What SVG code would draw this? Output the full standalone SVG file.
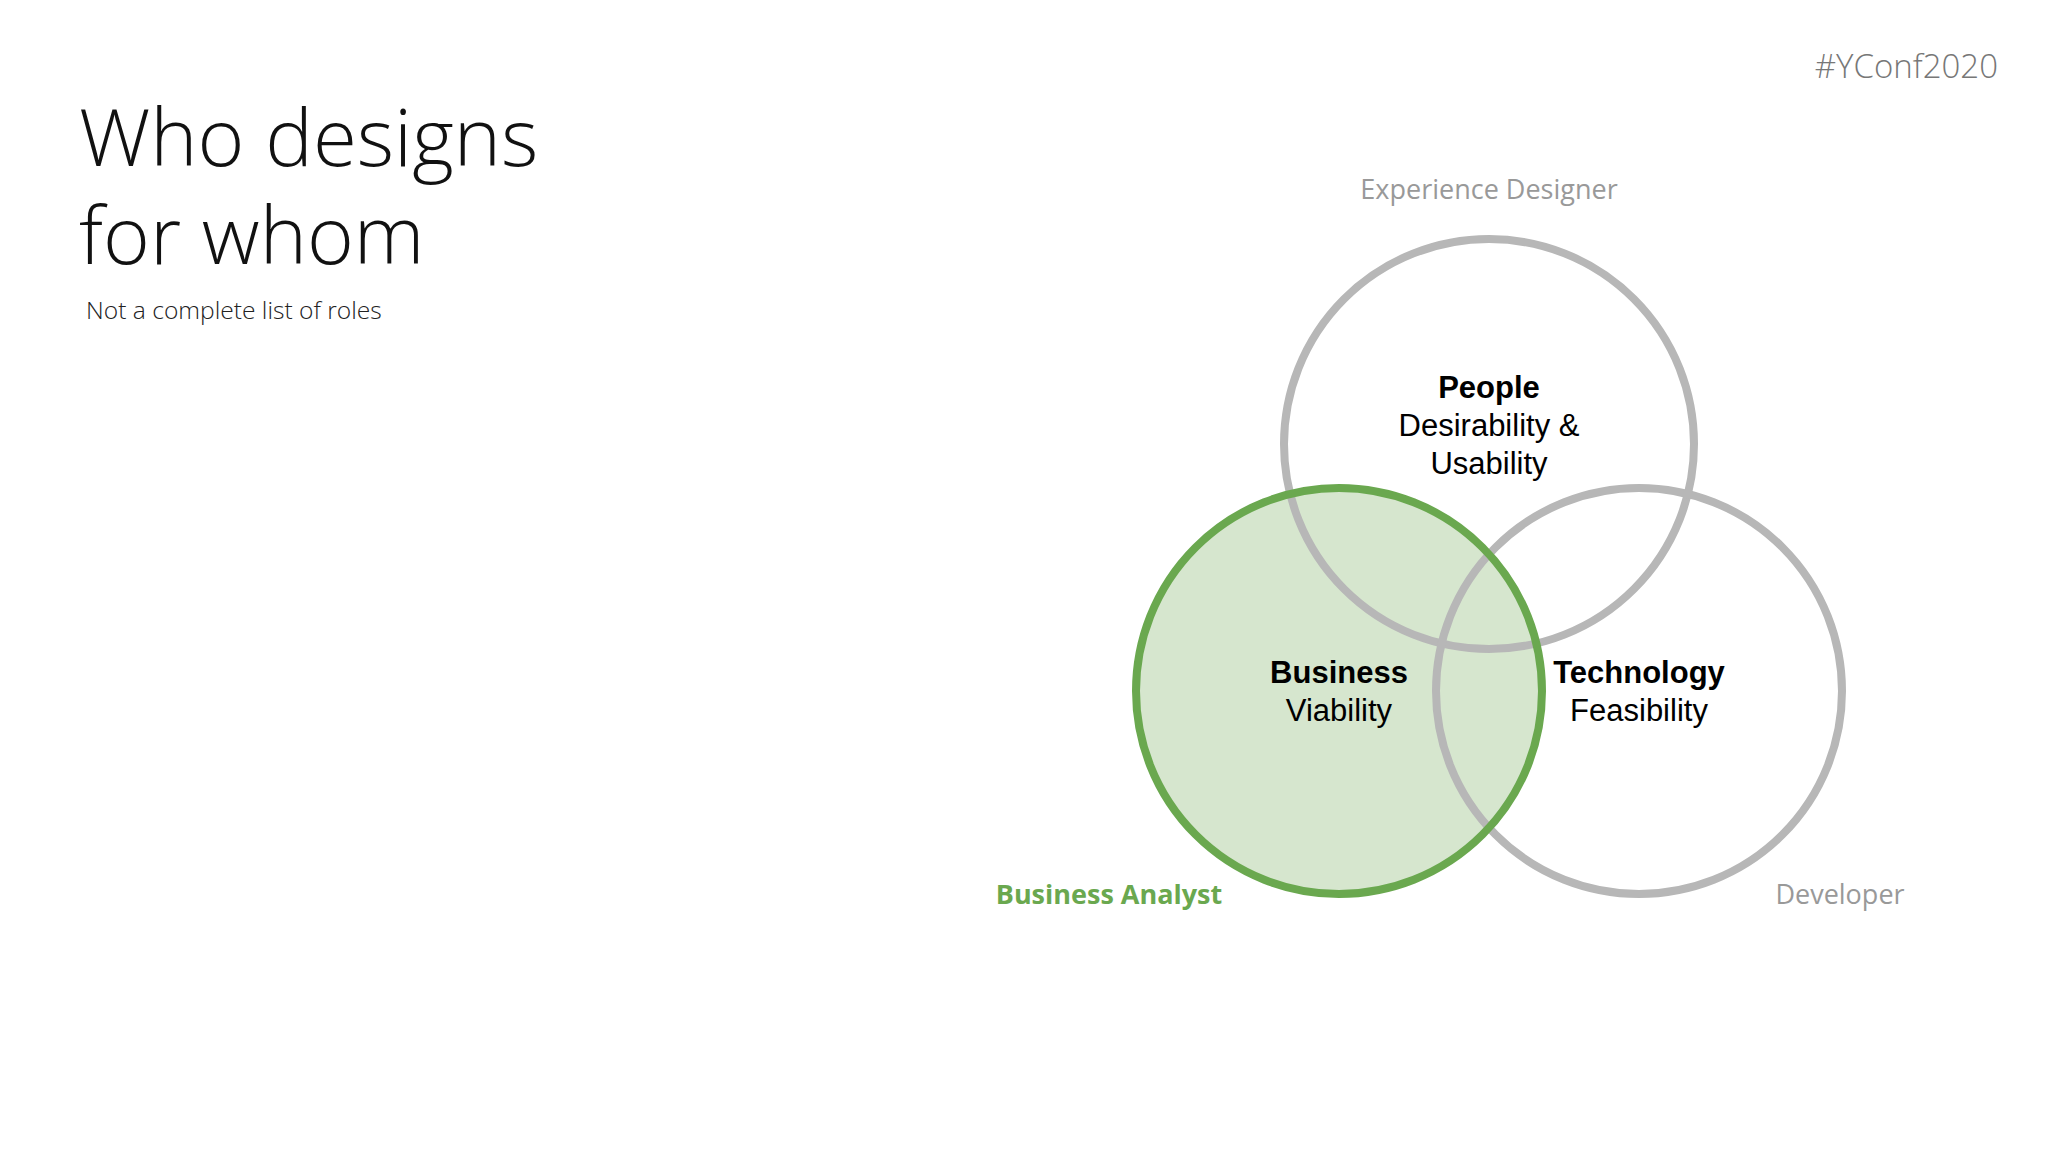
<svg xmlns="http://www.w3.org/2000/svg" width="2048" height="1152" viewBox="0 0 2048 1152">
<style>
.os{font-family:"Open Sans","Liberation Sans",sans-serif}
.ar{font-family:"Liberation Sans",Arial,sans-serif;font-size:31px;fill:#000;text-anchor:middle}
.b{font-weight:bold}
.role{font-family:"Open Sans","Liberation Sans",sans-serif;font-size:27px;text-anchor:middle;fill:#999}
.gray{fill:none;stroke:#b7b7b7;stroke-width:8}
</style>
<rect width="2048" height="1152" fill="#fff"/>
<text class="os" x="1998" y="78" font-size="33" font-weight="300" fill="#777" text-anchor="end">#YConf2020</text>
<text class="os" x="79" y="166" font-size="80" font-weight="300" fill="#111">Who designs</text>
<text class="os" x="79" y="264" font-size="80" font-weight="300" fill="#111">for whom</text>
<text class="os" x="86" y="319" font-size="24.6" font-weight="300" fill="#222">Not a complete list of roles</text>
<g id="business-fill"><circle cx="1339" cy="691" r="203" fill="#d6e6ce"/></g>
<g id="people"><circle class="gray" cx="1489" cy="444" r="205"/></g>
<g id="technology"><circle class="gray" cx="1639" cy="691" r="203"/></g>
<g id="business"><circle cx="1339" cy="691" r="203" fill="none" stroke="#6aa84f" stroke-width="8"/></g>
<g id="labels">
<text class="role" x="1489" y="199">Experience Designer</text>
<text class="ar b" x="1489" y="398">People</text>
<text class="ar" x="1489" y="436">Desirability &amp;</text>
<text class="ar" x="1489" y="474">Usability</text>
<text class="ar b" x="1339" y="683">Business</text>
<text class="ar" x="1339" y="721">Viability</text>
<text class="ar b" x="1639" y="683">Technology</text>
<text class="ar" x="1639" y="721">Feasibility</text>
<text class="role b" x="1109" y="904" style="fill:#6aa84f">Business Analyst</text>
<text class="role" x="1840" y="904">Developer</text>
</g>
</svg>
